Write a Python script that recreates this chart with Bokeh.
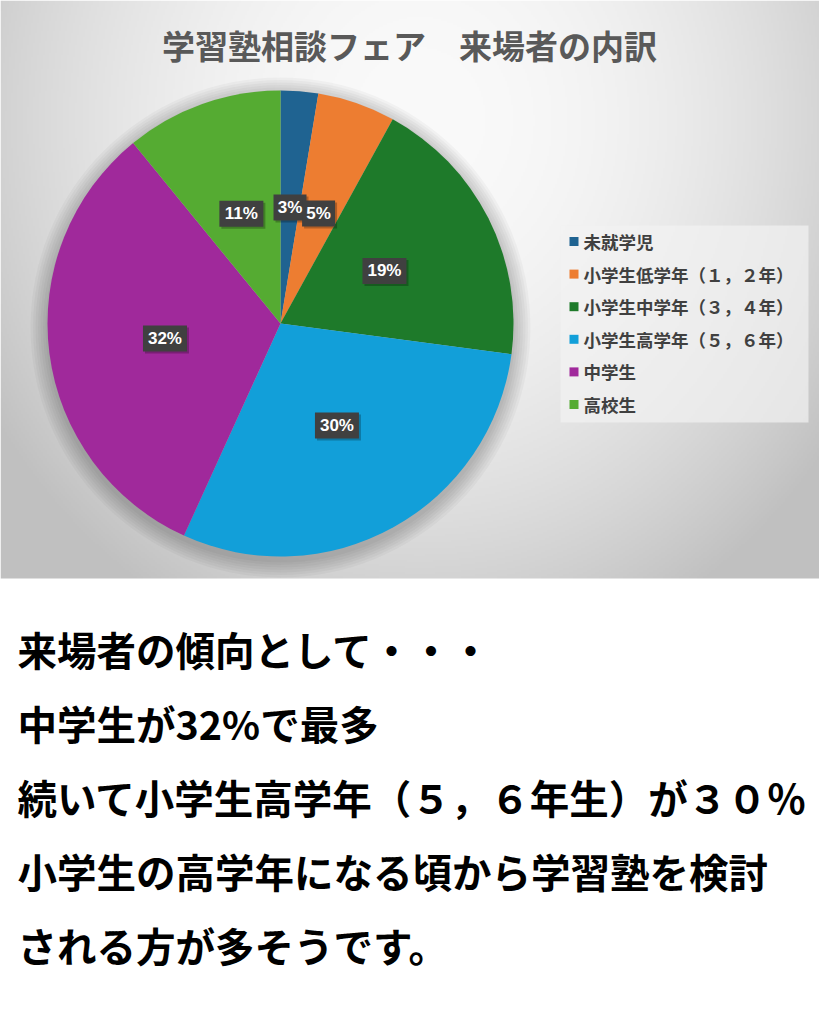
import numpy as np
from bokeh.plotting import figure
from bokeh.models import Range1d
from bokeh.core.properties import value
from bokeh.embed import file_html
from bokeh.resources import INLINE

# data
categories = ["未就学児", "小学生低学年（１，２年）", "小学生中学年（３，４年）",
              "小学生高学年（５，６年）", "中学生", "高校生"]
shares = [2.6, 5.4, 19.1, 29.7, 32.3, 10.9]
pct_labels = ["3%", "5%", "19%", "30%", "32%", "11%"]
colors = ["#1f6391", "#ed7d31", "#1e7a2a", "#129fd9", "#a0299b", "#55ab32"]

chart_title = "学習塾相談フェア　来場者の内訳"
notes = [
    "来場者の傾向として・・・",
    "中学生が32%で最多",
    "続いて小学生高学年（５，６年生）が３０％",
    "小学生の高学年になる頃から学習塾を検討",
    "される方が多そうです。",
]

JP = value("Noto Sans CJK JP")
W, H = 819, 1024


def Y(sy):
    # page pixel row -> data y
    return H - sy


p = figure(width=W, height=H, x_range=Range1d(0, W), y_range=Range1d(0, H),
           output_backend="svg", toolbar_location=None, min_border=0)
p.axis.visible = False
p.grid.visible = False
p.outline_line_color = None
p.background_fill_color = "white"
p.border_fill_color = "white"

# grey gradient panel behind the chart
nx, ny = 410, 289
xs = (np.arange(nx) + 0.5) * 2
ys = 578 - (np.arange(ny) + 0.5) * 2
gx, gy = np.meshgrid(xs, ys)
t2 = ((gx - 420) / 470) ** 2 + ((gy - 120) / 520) ** 2
g = np.clip(250 - 50 * t2, 192, 250).astype(np.uint32)
img = (255 << 24) | (g << 16) | (g << 8) | g
p.image_rgba(image=[img.view(np.uint32)], x=0, y=Y(578), dw=W, dh=578)

# pie
cx, cy, r = 280, Y(323), 233
for k in range(7):
    p.circle(x=cx, y=cy - 4, radius=r + 2 + 2.5 * k, fill_color="black",
             fill_alpha=0.03, line_color=None)

frac = np.array(shares) / sum(shares)
cum = np.concatenate([[0], np.cumsum(frac)])
start = np.pi / 2 - cum[:-1] * 2 * np.pi
end = np.pi / 2 - cum[1:] * 2 * np.pi
p.wedge(x=cx, y=cy, radius=r, start_angle=start, end_angle=end, direction="clock",
        fill_color=colors, line_color=None)

# data labels at half radius along each slice's middle
mid = (cum[:-1] + cum[1:]) / 2 * 2 * np.pi
lx = cx + 0.5 * r * np.sin(mid)
ly = cy + 0.5 * r * np.cos(mid)
lw = [33 if len(s) == 2 else 44 for s in pct_labels]
p.rect(x=lx + 2, y=ly - 2, width=lw, height=26, fill_color="black", fill_alpha=0.25,
       line_color=None)
p.rect(x=lx, y=ly, width=lw, height=26, fill_color="#404040", line_color=None)
p.text(x=lx, y=ly, text=pct_labels, text_color="white", text_font=value("Liberation Sans"),
       text_font_style="bold", text_font_size="17px", text_align="center",
       text_baseline="middle")

# legend
p.rect(x=684, y=Y(323.5), width=248, height=197, fill_color="#f2f2f2", fill_alpha=0.7,
       line_color=None)
row_y = [Y(241 + 32.6 * i) for i in range(len(categories))]
p.rect(x=[573.5] * len(categories), y=row_y, width=9, height=9, fill_color=colors,
       line_color=None)
p.text(x=[583] * len(categories), y=row_y, text=categories, text_color="#404040",
       text_font=JP, text_font_style="bold", text_font_size="17.5px",
       text_baseline="middle")

# title
p.text(x=[409], y=[Y(44)], text=[chart_title], text_color="#595959", text_font=JP,
       text_font_style="bold", text_font_size="33px", text_align="center",
       text_baseline="middle")

# commentary under the chart
p.text(x=[17] * len(notes), y=[Y(648 + 74 * i) for i in range(len(notes))], text=notes,
       text_color="black", text_font=JP, text_font_style="bold", text_font_size="39.5px",
       text_baseline="middle")

open("out.html", "w").write(file_html(p, INLINE))
